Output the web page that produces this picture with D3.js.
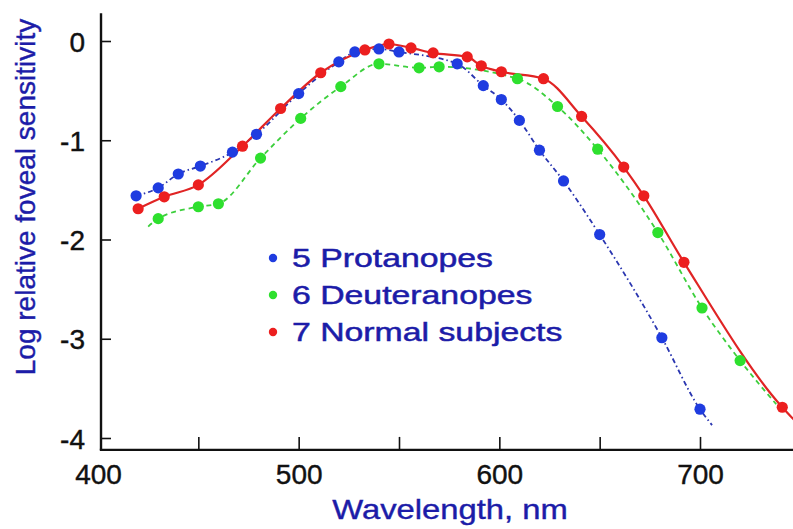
<!DOCTYPE html>
<html>
<head>
<meta charset="utf-8">
<script src="https://cdn.jsdelivr.net/npm/d3@7"></script>
<style>
  html, body { margin: 0; padding: 0; background: #fff; }
  svg { display: block; font-family: "Liberation Sans", Arial, sans-serif; }
</style>
</head>
<body>
<div id="chart"></div>
<script>
// 1. Data (wavelength nm, log relative foveal sensitivity)
const protanWave = [419, 430, 440, 451, 467, 479, 500, 520, 528, 540, 550, 579, 592, 601, 610, 620, 632, 650, 681, 700];
const protanSens = [-1.56, -1.48, -1.34, -1.26, -1.12, -0.94, -0.53, -0.21, -0.11, -0.08, -0.11, -0.23, -0.45, -0.59, -0.80, -1.10, -1.41, -1.95, -2.99, -3.71];
const protanFitEnd = [706, -3.87];

const deutWave = [430, 450, 460, 481, 501, 521, 540, 560, 570, 609, 629, 649, 679, 701, 720];
const deutSens = [-1.79, -1.67, -1.64, -1.18, -0.78, -0.46, -0.23, -0.27, -0.26, -0.38, -0.66, -1.09, -1.93, -2.69, -3.22];
const deutFitStart = [425, -1.87];
const deutFitEnd = [738, -3.66];

const normWave = [420, 433, 450, 472, 491, 511, 533, 545, 556, 567, 584, 591, 601, 622, 641, 662, 672, 692, 741];
const normSens = [-1.69, -1.57, -1.45, -1.06, -0.68, -0.32, -0.09, -0.03, -0.07, -0.12, -0.16, -0.25, -0.31, -0.38, -0.76, -1.27, -1.56, -2.23, -3.69];
const normFitEnd = [747, -3.82];

const legendLabels = ["5 Protanopes", "6 Deuteranopes", "7 Normal subjects"];
const xLabelTicks = [400, 500, 600, 700];
const xMinorTicks = [450, 500, 550, 600, 650, 700];
const yTicks = [0, -1, -2, -3, -4];

// 2. Size
const WIDTH = 793;
const HEIGHT = 529;
const textBlue = "#1c1ca8";

const svg = d3.select("#chart")
    .append("svg")
    .attr("width", WIDTH)
    .attr("height", HEIGHT);

// 3. Scales
const xScale = d3.scaleLinear().domain([400, 700]).range([98, 700]);
const yScale = d3.scaleLinear().domain([0, -4]).range([41, 438]);

const xLeft = xScale(401.5);
const yBottom = yScale(-4.12);

// 4. Axes
svg.append("g")
    .attr("transform", `translate(${xLeft},0)`)
    .call(d3.axisLeft(yScale).tickValues(yTicks).tickSize(-10).tickSizeOuter(0).tickFormat(d => String(d)))
    .call(g => g.select(".domain").remove())
    .call(g => g.selectAll("line").attr("stroke", "#111").attr("stroke-width", 1.6))
    .call(g => g.selectAll("text")
        .attr("x", -16)
        .attr("dy", "0.36em")
        .attr("fill", "#111")
        .attr("stroke", "#111")
        .attr("stroke-width", 0.4)
        .style("font-size", "28px"));

svg.append("g")
    .attr("transform", `translate(0,${yBottom})`)
    .call(d3.axisBottom(xScale).tickValues(xMinorTicks).tickSize(-13).tickSizeOuter(0).tickFormat(""))
    .call(g => g.select(".domain").remove())
    .call(g => g.selectAll("line").attr("stroke", "#111").attr("stroke-width", 1.6));

svg.append("g")
    .attr("transform", `translate(0,${yBottom})`)
    .call(d3.axisBottom(xScale).tickValues(xLabelTicks).tickSize(0).tickFormat(d => String(d)))
    .call(g => g.select(".domain").remove())
    .call(g => g.selectAll("text")
        .attr("y", 0)
        .attr("dy", "1.2em")
        .attr("fill", "#111")
        .attr("stroke", "#111")
        .attr("stroke-width", 0.4)
        .style("font-size", "28px"));

// axis lines
svg.append("line")
    .attr("x1", xLeft).attr("x2", xLeft)
    .attr("y1", yScale(0.28)).attr("y2", yBottom)
    .attr("stroke", "#111").attr("stroke-width", 2.4);

svg.append("line")
    .attr("x1", xLeft - 1.2).attr("x2", WIDTH)
    .attr("y1", yBottom).attr("y2", yBottom)
    .attr("stroke", "#111").attr("stroke-width", 2.4);

// 5. Series
const series = [
    { wave: protanWave, sens: protanSens, fitStart: null, fitEnd: protanFitEnd,
      dot: "#1f3ce0", line: "#2a36b0", dash: "5,3,1.5,3", width: 1.8 },
    { wave: deutWave, sens: deutSens, fitStart: deutFitStart, fitEnd: deutFitEnd,
      dot: "#2ee02e", line: "#3ccf3c", dash: "5,4", width: 1.8 },
    { wave: normWave, sens: normSens, fitStart: null, fitEnd: normFitEnd,
      dot: "#ec1f1f", line: "#e02424", dash: null, width: 2.2 }
];

const line = d3.line()
    .x(d => xScale(d[0]))
    .y(d => yScale(d[1]))
    .curve(d3.curveMonotoneX);

series.forEach(s => {
    let pts = s.wave.map((w, i) => [w, s.sens[i]]);
    if (s.fitStart) pts = [s.fitStart].concat(pts);
    if (s.fitEnd) pts = pts.concat([s.fitEnd]);
    svg.append("path")
        .datum(pts)
        .attr("fill", "none")
        .attr("stroke", s.line)
        .attr("stroke-width", s.width)
        .attr("stroke-dasharray", s.dash)
        .attr("d", line);
});

// dots drawn after all lines (red on top like the original)
series.forEach(s => {
    svg.append("g")
        .selectAll("circle")
        .data(s.wave.map((w, i) => [w, s.sens[i]]))
        .enter()
        .append("circle")
        .attr("cx", d => xScale(d[0]))
        .attr("cy", d => yScale(d[1]))
        .attr("r", 5.6)
        .attr("fill", s.dot);
});

// 6. Legend
const legend = svg.append("g").attr("transform", "translate(273,258)");
legendLabels.forEach((label, i) => {
    const row = legend.append("g").attr("transform", `translate(0,${i * 37})`);
    row.append("circle")
        .attr("r", 4.2)
        .attr("fill", series[i].dot);
    row.append("text")
        .attr("transform", "translate(19,0) scale(1.3,1)")
        .attr("dy", "0.36em")
        .attr("fill", textBlue)
        .attr("stroke", textBlue)
        .attr("stroke-width", 0.5)
        .style("font-size", "26px")
        .text(label);
});

// 7. Axis titles
svg.append("text")
    .attr("transform", `translate(${(xLeft + WIDTH) / 2 + 3},519) scale(1.17,1)`)
    .attr("text-anchor", "middle")
    .attr("fill", textBlue)
    .attr("stroke", textBlue)
    .attr("stroke-width", 0.4)
    .style("font-size", "28px")
    .text("Wavelength, nm");

svg.append("text")
    .attr("transform", "translate(35,197) rotate(-90)")
    .attr("text-anchor", "middle")
    .attr("fill", textBlue)
    .attr("stroke", textBlue)
    .attr("stroke-width", 0.4)
    .style("font-size", "28px")
    .text("Log relative foveal sensitivity");
</script>
</body>
</html>
